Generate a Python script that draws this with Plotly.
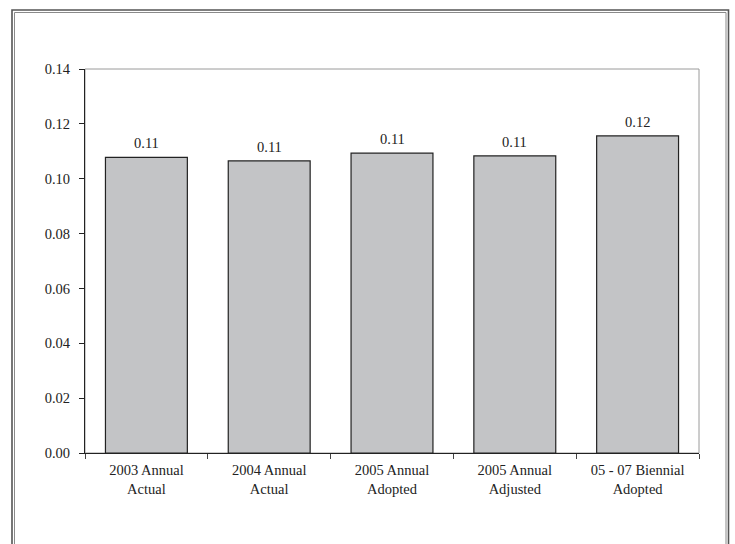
import plotly.graph_objects as go

categories = ["2003 Annual<br>Actual", "2004 Annual<br>Actual", "2005 Annual<br>Adopted",
              "2005 Annual<br>Adjusted", "05 - 07 Biennial<br>Adopted"]
values = [0.1078, 0.1065, 0.1093, 0.1083, 0.1156]
y_ticks = [0.00, 0.02, 0.04, 0.06, 0.08, 0.10, 0.12, 0.14]

W, H = 735, 544
L, R, T, B = 85, 36, 69, 91
pw, ph = W - L - R, H - T - B

def px_x(x):
    return (x - L) / pw

def px_y(y):
    return (H - B - y) / ph

font = dict(family="Liberation Serif, Times New Roman, serif", color="#222222")

fig = go.Figure(go.Bar(
    x=categories, y=values,
    marker=dict(color="#c3c4c6", line=dict(color="#222222", width=1.2)),
    width=0.667,
))

for c, v in zip(categories, values):
    fig.add_annotation(x=c, y=v, text=f"{v:.2f}", showarrow=False,
                       yanchor="bottom", yshift=4, font=dict(size=14.5, **font))

shapes = [
    dict(type="rect", xref="paper", yref="paper", x0=0, x1=1, y0=0, y1=1,
         line=dict(color="#9a9a9a", width=1), layer="below"),
    dict(type="rect", xref="paper", yref="paper",
         x0=px_x(12), x1=px_x(728.5), y0=px_y(590), y1=px_y(10),
         line=dict(color="#555555", width=1.6), layer="below"),
    dict(type="rect", xref="paper", yref="paper",
         x0=px_x(14.5), x1=px_x(726), y0=px_y(590), y1=px_y(12.5),
         line=dict(color="#8a8a8a", width=1), layer="below"),
]

fig.update_layout(
    width=W, height=H,
    margin=dict(l=L, r=R, t=T, b=B, pad=0),
    paper_bgcolor="white", plot_bgcolor="white",
    showlegend=False,
    shapes=shapes,
    bargap=0.333,
    font=font,
)
fig.update_xaxes(
    showline=True, linecolor="#222222", linewidth=1,
    ticks="outside", tickson="boundaries", ticklen=5, tickcolor="#444444",
    ticklabelstandoff=4,
    tickfont=dict(size=14.5, **font), showgrid=False, zeroline=False,
)
fig.update_yaxes(
    range=[0, 0.14], tickvals=y_ticks, ticktext=[f"{t:.2f}" for t in y_ticks],
    showline=True, linecolor="#222222", linewidth=1,
    ticks="outside", ticklen=5, tickcolor="#222222",
    ticklabelstandoff=6,
    tickfont=dict(size=14.5, **font), showgrid=False, zeroline=False,
)

fig.write_html("out.html", config={"displayModeBar": False},
               post_script="document.body.style.margin='0';")
